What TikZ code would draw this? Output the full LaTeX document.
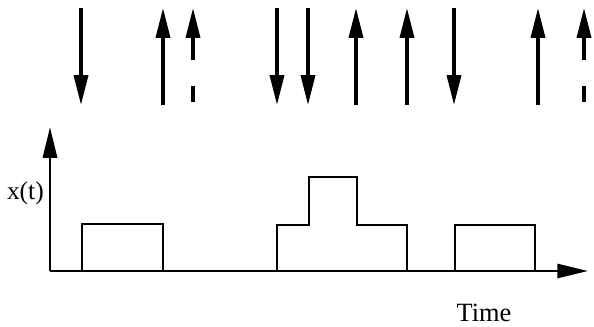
\documentclass[tikz,border=0pt]{standalone}
\usepackage{fontspec}
\setmainfont{Liberation Serif}
\usetikzlibrary{arrows.meta}
\begin{document}
\begin{tikzpicture}[x=0.02cm,y=-0.02cm,
	spin/.style={line width=1.9pt,-{Triangle[length=17pt,width=8pt]}},
	axis/.style={line width=1.6pt,-{Triangle[length=17.5pt,width=8pt]}},
	pulse/.style={line width=1.3pt}]
	\useasboundingbox (0,0) rectangle (594,326);
	% spins down and up
	\foreach \x in {81,277,308,454}
		\draw[spin] (\x,8) -- (\x,105);
	\foreach \x in {163,356,407,538}
		\draw[spin] (\x,105) -- (\x,8);
	\foreach \x in {193,584} {
		\draw[spin] (\x,60) -- (\x,8);
		\draw[line width=1.9pt] (\x,86) -- (\x,102);
	}
	% axes
	\draw[axis] (50,271) -- (50,127);
	\draw[axis] (50,271) -- (588,271);
	\node[anchor=east,font=\fontsize{14.5}{16}\selectfont] at (50,193) {x(t)};
	\node[font=\fontsize{15}{17}\selectfont] at (484,313) {Time};
	% signal
	\draw[pulse] (82,271) -- (82,224) -- (163,224) -- (163,271);
	\draw[pulse] (277,271) -- (277,225) -- (309,225) -- (309,177) -- (357,177) -- (357,225) -- (407,225) -- (407,271);
	\draw[pulse] (455,271) -- (455,225) -- (535,225) -- (535,271);
\end{tikzpicture}
\end{document}
